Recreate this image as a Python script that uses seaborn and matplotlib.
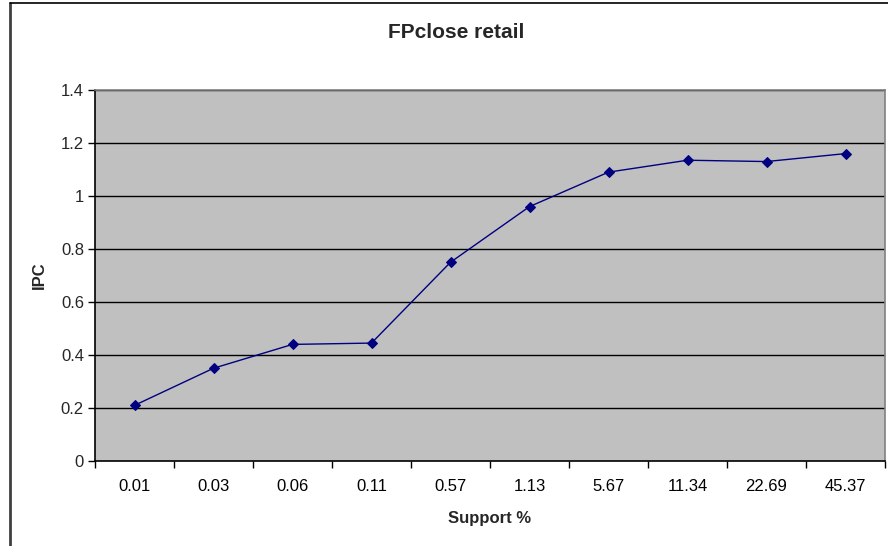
import matplotlib
matplotlib.use("Agg")
import matplotlib.pyplot as plt
from matplotlib.lines import Line2D
import seaborn as sns
import pandas as pd
import numpy as np

support = ["0.01", "0.03", "0.06", "0.11", "0.57", "1.13", "5.67", "11.34", "22.69", "45.37"]
ipc = [0.21, 0.35, 0.44, 0.445, 0.75, 0.96, 1.09, 1.135, 1.13, 1.16]
y_ticks = [0, 0.2, 0.4, 0.6, 0.8, 1.0, 1.2, 1.4]
y_labels = ["0", "0.2", "0.4", "0.6", "0.8", "1", "1.2", "1.4"]

sns.set_style("white")
plt.rcParams["font.family"] = ["Liberation Sans", "DejaVu Sans"]

df = pd.DataFrame({"Support %": pd.Categorical(support, categories=support), "IPC": ipc})

fig = plt.figure(figsize=(8.88, 5.46), dpi=100)
ax = fig.add_axes([95 / 888, 1 - 461 / 546, (885 - 95) / 888, (461 - 90) / 546])
ax.set_facecolor("#C0C0C0")

# horizontal gridlines
for v in y_ticks[1:]:
    ax.axhline(v, color="black", linewidth=1.0, zorder=1)

sns.pointplot(data=df, x="Support %", y="IPC", color="#000080", markers="D",
              markersize=5, linewidth=1.0, ax=ax, zorder=3)

ax.set_xlim(-0.5, len(support) - 0.5)
ax.set_ylim(0, 1.4)
ax.set_yticks(y_ticks)
ax.set_yticklabels(y_labels)
ax.set_xticks(range(len(support)))
ax.set_xticklabels(support)
ax.set_xticks(np.arange(-0.5, len(support), 1.0), minor=True)
ax.tick_params(axis="x", which="major", bottom=True, length=0, pad=13, labelsize=12,
               colors="black")
ax.tick_params(axis="x", which="minor", bottom=True, length=5, width=1, color="black",
               direction="out")
ax.tick_params(axis="y", which="major", left=True, length=5, width=1, color="black",
               direction="out", labelsize=12, pad=3)

for s in ax.spines.values():
    s.set_color("#808080")
    s.set_linewidth(1.2)
ax.spines["bottom"].set_color("black")
ax.spines["left"].set_color("black")

ax.set_xlabel("Support %", fontsize=12, fontweight="bold", labelpad=12)
ax.set_ylabel("IPC", fontsize=12, fontweight="bold", labelpad=10)
fig.text(456 / 888, 1 - 33 / 546, "FPclose retail", ha="center", va="center",
         fontsize=15, fontweight="bold")

# chart frame edges
fig.add_artist(Line2D([9.5 / 888, 9.5 / 888], [0, 1 - 2.5 / 546], color="#404040",
                      linewidth=2, transform=fig.transFigure))
fig.add_artist(Line2D([9.5 / 888, 1], [1 - 2.5 / 546, 1 - 2.5 / 546], color="black",
                      linewidth=1.2, transform=fig.transFigure))

fig.savefig("out.png", dpi=100, facecolor="white")
